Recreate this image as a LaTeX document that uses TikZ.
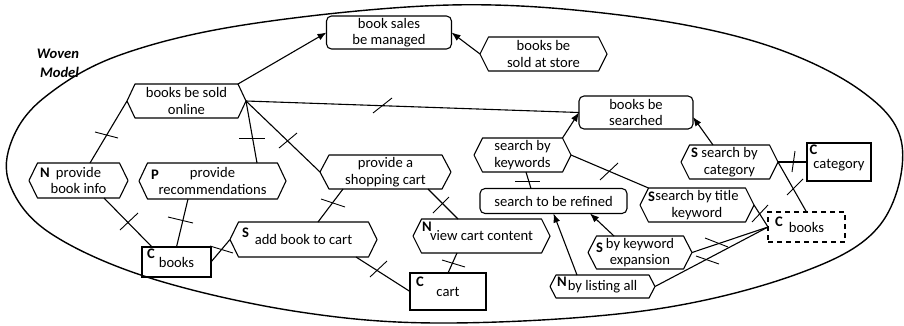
\documentclass[tikz,border=0pt]{standalone}
\usepackage{fontspec}
\setmainfont{Carlito}
\usetikzlibrary{arrows.meta,calc}
\begin{document}
\begin{tikzpicture}[x=1pt,y=-1pt,
  every node/.style={font=\fontsize{14.6}{16.5}\selectfont, inner sep=0pt, outer sep=0pt, align=center},
  outl/.style={line width=1.1pt, line join=round},
  rbox/.style={draw, line width=1.1pt, rounded corners=5pt, rectangle},
  sbox/.style={draw, line width=1.1pt, rectangle},
  dbox/.style={draw, line width=1.1pt, rectangle, dash pattern=on 5pt off 4pt},
  hexa/.style={rectangle},
  lt/.style={font=\fontsize{14.6}{16.5}\selectfont\bfseries, anchor=north west},
  con/.style={line width=1.1pt},
  arr/.style={line width=1.1pt, -{Latex[length=9pt,width=7pt]}},
  tk/.style={line width=0.9pt}
]
\useasboundingbox (0,0) rectangle (904,325);

% outer woven model boundary
\draw[line width=1.4pt] plot[smooth cycle, tension=0.6] coordinates {
  (450,5) (620,15) (760,43) (860,90) (902,145) (880,225) (800,273) (650,310)
  (450,323) (300,312) (150,278) (50,233) (10,185) (12,140) (45,97) (120,55) (250,24)};

\node[font=\fontsize{14.6}{19}\selectfont\bfseries\itshape, align=right, anchor=east] (woven) at (79,63) {Woven\\Model};

% nodes
\node[rbox, minimum width=125pt, minimum height=33pt] (sales) at (389,32.5) {book sales\\be managed};
\node[hexa, minimum width=127pt, minimum height=34pt] (store) at (543.5,54) {books be\\sold at store};
\node[hexa, minimum width=119pt, minimum height=34pt] (sold) at (186.5,101) {books be sold\\online};
\node[rbox, minimum width=114pt, minimum height=33pt] (searched) at (636,112.5) {books be\\searched};
\node[hexa, minimum width=97pt, minimum height=34pt] (kw) at (522.5,155) {search by\\keywords};
\node[hexa, minimum width=97pt, minimum height=34pt] (cat) at (729.5,162) {search by\\category};
\node[sbox, minimum width=64pt, minimum height=38pt, text height=17pt, text depth=3.5pt] (catC) at (839,162) {category};
\node[rbox, minimum width=147pt, minimum height=25pt] (refined) at (553.5,201) {search to be refined};
\node[hexa, minimum width=114pt, minimum height=34pt] (title) at (697,205) {search by title\\keyword};
\node[dbox, minimum width=77pt, minimum height=30pt] (books2) at (806.5,227) {books};
\node[hexa, minimum width=104pt, minimum height=33pt] (exp) at (640,252.5) {by keyword\\expansion};
\node[hexa, minimum width=105pt, minimum height=23pt] (list) at (602.5,286.5) {by listing all};
\node[hexa, minimum width=137pt, minimum height=34pt] (view) at (481.5,236) {view cart content};
\node[sbox, minimum width=76pt, minimum height=37pt] (cartC) at (448,291.5) {cart};
\node[hexa, minimum width=131pt, minimum height=34pt] (shop) at (385.5,172) {provide a\\shopping cart};
\node[hexa, minimum width=147pt, minimum height=35pt] (add) at (303.5,239.5) {add book to cart};
\node[sbox, minimum width=69pt, minimum height=30pt] (booksL) at (176.5,262) {books};
\node[hexa, minimum width=99pt, minimum height=35pt] (info) at (78.5,180.5) {provide\\book info};
\node[hexa, minimum width=147pt, minimum height=36pt] (rec) at (212.5,181) {provide\\recommendations};

% hexagon outlines
\foreach \q/\i in {store/8.5, sold/8, kw/8.5, cat/8.5, title/8.5, exp/8.5, list/6, view/8.5, shop/9, add/8.5, info/8.5, rec/8.5}
  \draw[outl] ([xshift=\i pt]\q.north west) -- ([xshift=-\i pt]\q.north east) -- (\q.east)
    -- ([xshift=-\i pt]\q.south east) -- ([xshift=\i pt]\q.south west) -- (\q.west) -- cycle;

% stereotype letters
\node[lt] (infoN) at ([xshift=11pt,yshift=-5pt]info.north west) {N};
\node[lt] (recP) at ([xshift=12pt,yshift=-7pt]rec.north west) {P};
\node[lt] (addS) at ([xshift=12pt,yshift=-6pt]add.north west) {S};
\node[lt] (booksLC) at ([xshift=5pt,yshift=-1.5pt]booksL.north west) {C};
\node[lt] (viewN) at ([xshift=9pt,yshift=-3pt]view.north west) {N};
\node[lt] (cartCC) at ([xshift=6pt,yshift=-4pt]cartC.north west) {C};
\node[lt] (catS) at ([xshift=10pt,yshift=-3pt]cat.north west) {S};
\node[lt] (catCC) at ([xshift=2.5pt,yshift=-1.5pt]catC.north west) {C};
\node[lt] (titleS) at ([xshift=8pt,yshift=-4pt]title.north west) {S};
\node[lt] (books2C) at ([xshift=7pt,yshift=-5pt]books2.north west) {C};
\node[lt] (expS) at ([xshift=8pt,yshift=-6.5pt]exp.north west) {S};
\node[lt] (listN) at ([xshift=7pt,yshift=-2pt]list.north west) {N};

% arrows
\draw[arr] ([xshift=-8pt]sold.north east) -- (sales.west);
\draw[arr] (store.west) -- (sales.east);
\draw[arr] ([xshift=-8.5pt]kw.north east) -- (searched.west);
\draw[arr] ([xshift=-16.5pt]cat.north) -- ([yshift=-4.5pt]searched.east);
\draw[arr] ([xshift=-26pt]exp.north) -- ([xshift=36.5pt]refined.south);
\draw[arr] ([xshift=-25.5pt]list.north) -- (refined.south);

% plain connectors
\draw[con] (sold.east) -- (searched.west);
\draw[con] (sold.west) -- ([xshift=11.5pt]info.north);
\draw[con] (sold.east) -- ([xshift=44.5pt]rec.north);
\draw[con] (sold.east) -- (shop.west);
\draw[con] ([xshift=25.5pt]info.south) -- ([xshift=10pt]booksL.north west);
\draw[con] ([xshift=-24.5pt]rec.south) -- (booksL.north);
\draw[con] (booksL.east) -- (add.west);
\draw[con] ([xshift=-42.5pt]shop.south) -- ([xshift=14.5pt]add.north);
\draw[con] ([xshift=42.5pt]shop.south) -- ([xshift=-23.5pt]view.north);
\draw[con] ([xshift=52.5pt]add.south) -- (cartC.west);
\draw[con] ([xshift=-24.5pt]view.south) -- (cartC.north);
\draw[con] (kw.east) -- ([xshift=8.5pt]title.north west);
\draw[con] ([xshift=3.5pt]kw.south) -- ([xshift=-22.5pt]refined.north);
\draw[con] (cat.east) -- (catC.west);
\draw[con] (cat.east) -- (books2.north);
\draw[con] (title.east) -- (books2.west);
\draw[con] (exp.east) -- (books2.west);
\draw[con] (list.east) -- (books2.west);

% tick marks
\draw[tk] (373,113) -- (392,98);
\draw[tk] (95,132) -- (118,138);
\draw[tk] (239,138) -- (265,138);
\draw[tk] (279,148) -- (297,133);
\draw[tk] (120,230) -- (138,213);
\draw[tk] (168,217) -- (193,223);
\draw[tk] (210,246) -- (233,253);
\draw[tk] (321,199) -- (345,207);
\draw[tk] (433,213) -- (449,197);
\draw[tk] (370,277) -- (387,261);
\draw[tk] (442,260) -- (465,267);
\draw[tk] (600,180) -- (618,163);
\draw[tk] (515,181) -- (540,181);
\draw[tk] (795,151) -- (792,172);
\draw[tk] (787,195) -- (803,179);
\draw[tk] (752,222) -- (768,205);
\draw[tk] (705,238) -- (728,247);
\draw[tk] (696,256) -- (719,264);
\end{tikzpicture}
\end{document}
